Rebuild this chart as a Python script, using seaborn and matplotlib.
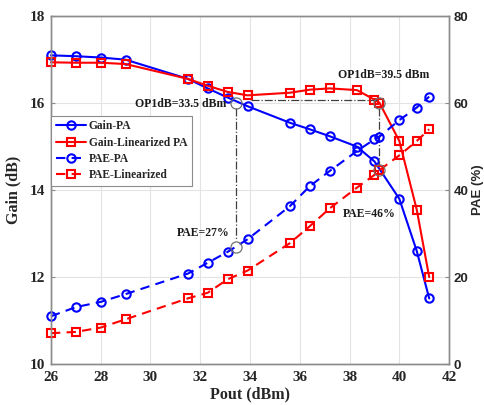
import numpy as np
import pandas as pd
import matplotlib
matplotlib.use("Agg")
import matplotlib.pyplot as plt
import seaborn as sns

# data
pout_gain_pa = [26, 27, 28, 29, 31.5, 32.3, 33.1, 33.9, 35.6, 36.4, 37.2, 38.3, 39.0, 40.0, 40.7, 41.2]
gain_pa = [17.10, 17.08, 17.05, 17.00, 16.56, 16.34, 16.13, 15.93, 15.55, 15.40, 15.24, 15.00, 14.66, 13.80, 12.60, 11.51]

pout_lin = [26, 27, 28, 29, 31.5, 32.3, 33.1, 33.9, 35.6, 36.4, 37.2, 38.3, 39.0, 39.2, 40.0, 40.7, 41.2]
gain_lin = [16.94, 16.93, 16.93, 16.90, 16.56, 16.40, 16.26, 16.18, 16.24, 16.31, 16.34, 16.30, 16.08, 16.01, 15.13, 13.55, 12.00]

pae_pa = [11.0, 13.1, 14.3, 16.1, 20.8, 23.3, 25.8, 28.7, 36.3, 40.9, 44.4, 49.0, 51.7, 52.3, 56.1, 59.0, 61.5]
pae_lin = [7.1, 7.4, 8.4, 10.3, 15.1, 16.4, 19.5, 21.5, 27.8, 31.7, 35.8, 40.6, 43.5, 44.6, 48.0, 51.3, 54.0]

op1db_left = (33.45, 16.0, 27.0)   # pout, gain, pae
op1db_right = (39.2, 16.0, 44.6)

serif = "Liberation Serif"
sans = "Liberation Sans"

sns.set_theme(style="white")
plt.rcParams["font.family"] = [serif, "DejaVu Sans"]
plt.rcParams["font.weight"] = "bold"

fig = plt.figure(figsize=(4.85, 4.05), dpi=100)
ax = fig.add_axes([0.105, 0.101, 0.821, 0.859])
ax2 = ax.twinx()

lw = 1.5
common = dict(linewidth=lw, markerfacecolor="none", markeredgewidth=1.5, clip_on=False)

sns.lineplot(x=pout_gain_pa, y=gain_pa, ax=ax, color="#0000ff", marker="o",
             markersize=6, markeredgecolor="#0000ff", label="Gain-PA", legend=False, **common)
sns.lineplot(x=pout_lin, y=gain_lin, ax=ax, color="#ff0000", marker="s",
             markersize=5.5, markeredgecolor="#ff0000", label="Gain-Linearized PA", legend=False, **common)
sns.lineplot(x=pout_lin, y=pae_pa, ax=ax2, color="#0000ff", marker="o",
             markersize=6, markeredgecolor="#0000ff", dashes=False, label="PAE-PA", legend=False, **common)
sns.lineplot(x=pout_lin, y=pae_lin, ax=ax2, color="#ff0000", marker="s",
             markersize=5.5, markeredgecolor="#ff0000", dashes=False, label="PAE-Linearized", legend=False, **common)
for ln in ax2.get_lines():
    ln.set_linestyle((0, (4.5, 3)))

ax.set_xlim(26, 42)
ax.set_ylim(10, 18)
ax2.set_ylim(0, 80)
ax.set_xticks(range(26, 43, 2))
ax.set_yticks(range(10, 19, 2))
ax2.set_yticks(range(0, 81, 20))

ax.grid(True, color="#e3e3e3", linewidth=0.8)
ax.set_axisbelow(True)
for a in (ax, ax2):
    for s in a.spines.values():
        s.set_color("#8c8c8c")
        s.set_linewidth(1.0)
    a.tick_params(direction="in", length=3, color="#8c8c8c", width=0.8)

for lab in ax.get_xticklabels() + ax.get_yticklabels():
    lab.set_fontfamily(serif)
    lab.set_fontweight("bold")
    lab.set_fontsize(11)
for lab in ax2.get_yticklabels():
    lab.set_fontfamily(sans)
    lab.set_fontweight("bold")
    lab.set_fontsize(9.5)
ax.tick_params(axis="x", pad=5)
ax.tick_params(axis="y", pad=4)
ax2.tick_params(axis="y", pad=3)

ax.set_xlabel("Pout (dBm)", fontfamily=serif, fontweight="bold", fontsize=11.5, labelpad=2)
ax.set_ylabel("Gain (dB)", fontfamily=serif, fontweight="bold", fontsize=11.5, labelpad=6)
ax2.set_ylabel("PAE (%)", fontfamily=sans, fontweight="bold", fontsize=9.5, labelpad=3)

# OP1dB markers and guide lines
grey = "#707070"
ax.plot([op1db_left[0], op1db_left[0]], [op1db_left[1] - 0.1, (op1db_left[2] / 10 + 10) + 0.15],
        color="#404040", linestyle="-.", linewidth=0.9)
ax.plot([34.05, op1db_right[0] - 0.1], [16.08, 16.08], color="#404040", linestyle="-.", linewidth=0.9)
ax.plot([op1db_right[0], op1db_right[0]], [op1db_right[1] - 0.1, (op1db_right[2] / 10 + 10) + 0.12],
        color="#404040", linestyle="-.", linewidth=0.9)
ax.plot([op1db_left[0], op1db_right[0]], [op1db_left[1], op1db_right[1]], linestyle="none",
        marker="o", markersize=8, markerfacecolor="none", markeredgecolor=grey, markeredgewidth=0.9)
ax2.plot([op1db_left[0], op1db_right[0]], [op1db_left[2], op1db_right[2]], linestyle="none",
         marker="o", markersize=8, markerfacecolor="none", markeredgecolor=grey, markeredgewidth=0.9)

txt = dict(fontfamily=serif, fontweight="bold", fontsize=8.5, color="#1a1a1a")
ax.text(33.05, 15.98, "OP1dB=33.5 dBm", ha="right", va="center", **txt)
ax.text(39.37, 16.64, "OP1dB=39.5 dBm", ha="center", va="center", **txt)
ax.text(33.19, 13.02, "PAE=27%", ha="right", va="center", **txt)
ax.text(38.8, 13.46, "PAE=46%", ha="center", va="center", **txt)

handles = ax.get_lines()[:2] + ax2.get_lines()[:2]
labels = ["Gain-PA", "Gain-Linearized PA", "PAE-PA", "PAE-Linearized"]
leg = ax2.legend(handles, labels, loc="upper left", bbox_to_anchor=(0.0, 0.714), borderaxespad=0,
                 frameon=True, fancybox=False, framealpha=1, edgecolor="#8c8c8c",
                 handlelength=2.6, handletextpad=0.3, borderpad=0.4, labelspacing=0.38,
                 prop={"family": serif, "weight": "bold", "size": 8.3})
leg.get_frame().set_linewidth(0.8)

fig.savefig("out.png", dpi=100)
